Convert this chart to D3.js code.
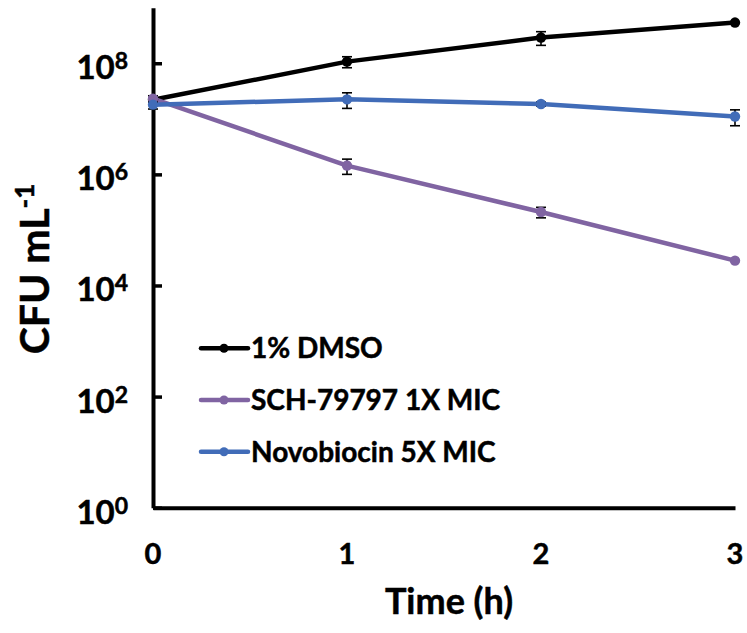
<!DOCTYPE html>
<html><head><meta charset="utf-8">
<script src="https://cdn.jsdelivr.net/npm/d3@7"></script>
<style>body{margin:0;background:#fff}svg{display:block}text{font-family:Lato,"Open Sans",sans-serif;font-weight:bold;fill:#000;stroke:#000;stroke-width:0.5px}</style>
</head><body>
<svg id="c" width="747" height="633"></svg>
<script>
const times = [0, 1, 2, 3];
const seriesNames = ["1% DMSO", "SCH-79797 1X MIC", "Novobiocin 5X MIC"];
const seriesColors = ["#000000", "#8064A2", "#416CB8"];
const dmso = [2.2e7, 1.07e8, 2.9e8, 5.4e8];
const dmsoErr = [0.2e7, 0.24e8, 0.8e8, 0];
const sch = [2.3e7, 1.44e6, 2.1e5, 2.8e4];
const schErr = [0.3e7, 0.44e6, 0.45e5, 0];
const novo = [1.8e7, 2.24e7, 1.85e7, 1.1e7];
const novoErr = [0.3e7, 0.7e7, 0.15e7, 0.35e7];
const yTickExps = [0, 2, 4, 6, 8];
const xTicks = [0, 1, 2, 3];

const series = [
  {name: seriesNames[0], color: seriesColors[0], v: dmso, e: dmsoErr},
  {name: seriesNames[1], color: seriesColors[1], v: sch, e: schErr},
  {name: seriesNames[2], color: seriesColors[2], v: novo, e: novoErr}
];

const svg = d3.select("#c");
const x = d3.scaleLinear().domain([0, 3]).range([153, 735]);
const y = d3.scaleLog().domain([1, 1e9]).range([507.7, 7.7]);

// axes
const gy = svg.append("g").attr("transform", "translate(153,0)")
  .call(d3.axisLeft(y).tickValues(yTickExps.map(e => Math.pow(10, e))).tickSize(-9).tickSizeOuter(0).tickFormat(""));
gy.select(".domain").attr("stroke", "#000").attr("stroke-width", 4);
gy.selectAll(".tick line").attr("stroke", "#000").attr("stroke-width", 3.5);

const gx = svg.append("g").attr("transform", "translate(0,507.7)")
  .call(d3.axisBottom(x).tickValues(xTicks).tickSize(0).tickSizeOuter(0).tickFormat(""));
gx.select(".domain").attr("stroke", "#000").attr("stroke-width", 4);

// y tick labels
const yl = svg.append("g");
yTickExps.forEach(e => {
  const t = yl.append("text").attr("x", 128).attr("y", y(Math.pow(10, e)) + 16)
    .attr("text-anchor", "end").style("font-size", "33px");
  t.append("tspan").text("10");
  t.append("tspan").attr("dy", -10).style("font-size", "23px").text(e);
});
// x tick labels
xTicks.forEach(v => {
  svg.append("text").attr("x", x(v)).attr("y", 564).attr("text-anchor", "middle")
    .style("font-size", "29px").text(v);
});

// titles
svg.append("text").attr("x", 449).attr("y", 614).attr("text-anchor", "middle")
  .style("font-size", "36px").text("Time (h)");
const yt = svg.append("text").attr("transform", "translate(49,269) rotate(-90)")
  .attr("text-anchor", "middle").style("font-size", "41px");
yt.append("tspan").text("CFU mL");
yt.append("tspan").attr("dy", -15).style("font-size", "26px").text("-1");

// lines
const line = d3.line().x((d, i) => x(times[i])).y(d => y(d));
series.forEach(s => {
  svg.append("path").attr("d", line(s.v)).attr("fill", "none")
    .attr("stroke", s.color).attr("stroke-width", 4.5).attr("stroke-linejoin", "round");
});
// error bars
series.forEach(s => {
  const g = svg.append("g").attr("stroke", "#000").attr("stroke-width", 1.6);
  s.v.forEach((v, i) => {
    if (!s.e[i]) return;
    const cx = x(times[i]), y1 = y(v + s.e[i]), y2 = y(v - s.e[i]);
    g.append("line").attr("x1", cx).attr("x2", cx).attr("y1", y1).attr("y2", y2);
    g.append("line").attr("x1", cx - 5).attr("x2", cx + 5).attr("y1", y1).attr("y2", y1);
    g.append("line").attr("x1", cx - 5).attr("x2", cx + 5).attr("y1", y2).attr("y2", y2);
  });
});
// markers
series.forEach(s => {
  svg.append("g").selectAll("circle").data(s.v).join("circle")
    .attr("cx", (d, i) => x(times[i])).attr("cy", d => y(d)).attr("r", 5.2).attr("fill", s.color);
});

// legend
const legY = [348.3, 400, 451.7];
series.forEach((s, i) => {
  const g = svg.append("g");
  g.append("line").attr("x1", 201).attr("x2", 248).attr("y1", legY[i]).attr("y2", legY[i])
    .attr("stroke", s.color).attr("stroke-width", 4.5).attr("stroke-linecap", "round");
  g.append("circle").attr("cx", 224).attr("cy", legY[i]).attr("r", 4.5).attr("fill", s.color);
  g.append("text").attr("x", 251).attr("y", legY[i] + 10).style("font-size", "28px").text(s.name);
});
</script>
</body></html>
